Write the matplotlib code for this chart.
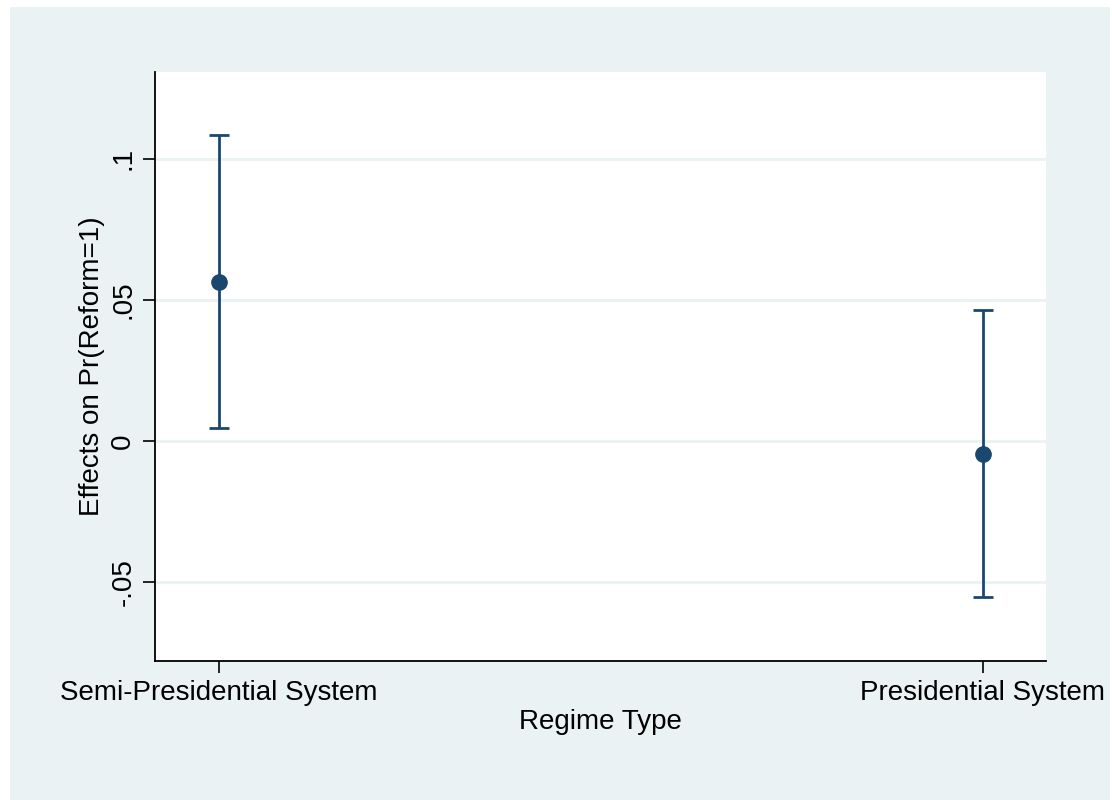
import matplotlib
matplotlib.use("Agg")
import matplotlib.pyplot as plt
from matplotlib.patches import Rectangle

# data
regimes = ["Semi-Presidential System", "Presidential System"]
effects = [0.0564, -0.0045]
ci_low = [0.0046, -0.0553]
ci_high = [0.1084, 0.0464]

bg = "#EAF2F3"
navy = "#1A476F"

plt.rcParams["font.family"] = ["Liberation Sans", "DejaVu Sans"]

fig = plt.figure(figsize=(11.12, 8), dpi=100)
fig.patch.set_facecolor("white")
# stata-like outer panel
fig.patches.append(Rectangle((10 / 1112, 0), 1100 / 1112, 793 / 800,
                             transform=fig.transFigure, facecolor=bg,
                             edgecolor="none", zorder=-1))

ax = fig.add_axes([155 / 1112, 1 - 661 / 800, 891 / 1112, 589 / 800])
ax.set_facecolor("white")

x = list(range(len(regimes)))
yerr = [[e - lo for e, lo in zip(effects, ci_low)],
        [hi - e for e, hi in zip(effects, ci_high)]]
ax.errorbar(x, effects, yerr=yerr, fmt="o", color=navy, ecolor=navy,
            elinewidth=2, capsize=7, capthick=2, markersize=11, zorder=3)

ax.set_xlim(-0.0839, 1.0826)
ax.set_ylim(-0.0779, 0.1307)
ax.set_yticks([-0.05, 0, 0.05, 0.1])
ax.set_yticklabels(["-.05", "0", ".05", ".1"], rotation=90, va="center")
ax.set_xticks(x)
ax.set_xticklabels(regimes)
ax.grid(axis="y", color=bg, linewidth=2)
ax.set_axisbelow(True)

for side in ["top", "right"]:
    ax.spines[side].set_visible(False)
for side in ["left", "bottom"]:
    ax.spines[side].set_linewidth(1.3)
ax.tick_params(axis="both", length=8.5, width=1.2, labelsize=20, pad=5)

ax.set_xlabel("Regime Type", fontsize=20, labelpad=2)
ax.set_ylabel("Effects on Pr(Reform=1)", fontsize=20, labelpad=4)

fig.savefig("out.png", dpi=100)
